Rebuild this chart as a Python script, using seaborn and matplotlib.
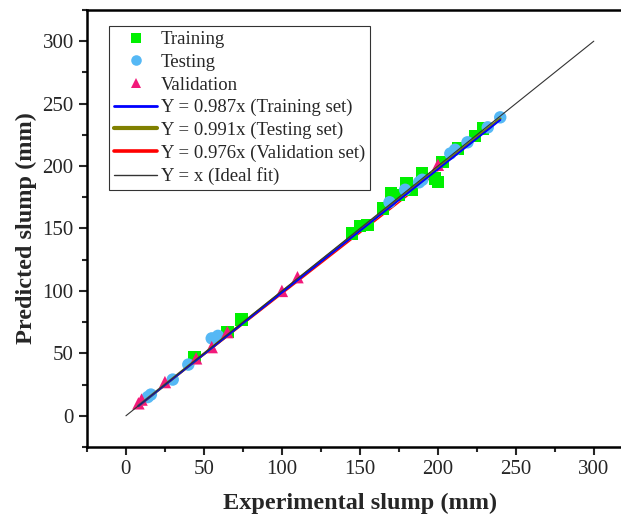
import numpy as np
import pandas as pd
import matplotlib
matplotlib.use("Agg")
import matplotlib.pyplot as plt
from matplotlib.ticker import MultipleLocator
import seaborn as sns

# Dados
train_x = [44, 65, 74, 145, 150, 155, 165, 170, 175, 180, 183, 190, 190, 198, 200, 203, 213, 224, 229]
train_y = [47, 67, 77, 146, 152, 153, 166, 178, 177, 186, 181, 194, 193, 190, 187, 203, 214, 224, 230]

test_x = [14, 16, 30, 40, 55, 59, 169, 179, 188, 190, 208, 211, 219, 232, 240]
test_y = [15, 17, 29, 41, 62, 64, 171, 181, 187, 189, 210, 213, 219, 231, 239]

val_x = [8, 10, 25, 45, 55, 65, 100, 110, 200]
val_y = [10, 13, 27, 46, 55, 67, 100, 111, 201]

slopes = [0.987, 0.991, 0.976]
set_names = ["Training", "Testing", "Validation"]
ideal = [0, 300]

sns.set_style("ticks")
plt.rcParams['font.family'] = ['Liberation Serif', 'DejaVu Serif']

fig = plt.figure(figsize=(6.21, 5.23), dpi=100)
ax = fig.add_axes([0.140, 0.1453, 0.879, 0.8357])

df = pd.concat([
    pd.DataFrame({"x": train_x, "y": train_y, "set": "Training"}),
    pd.DataFrame({"x": test_x, "y": test_y, "set": "Testing"}),
    pd.DataFrame({"x": val_x, "y": val_y, "set": "Validation"}),
])

sns.scatterplot(data=df, x="x", y="y", hue="set", style="set",
                palette={"Training": "#00F000", "Testing": "#55B8F5", "Validation": "#F2197A"},
                markers={"Training": "s", "Testing": "o", "Validation": "^"},
                s=80, linewidth=0, ax=ax, zorder=2)

# Retas de ajuste (a de validação só no intervalo dos seus dados)
all_x = np.array(train_x + test_x + val_x)
ranges = [
    np.array([all_x.min(), all_x.max()]),
    np.array([all_x.min(), all_x.max()]),
    np.array([min(val_x), max(val_x)]),
]
fit_colors = ["#0000FF", "#808000", "#FF0000"]
fit_widths = [1.4, 2.0, 1.0]
fit_z = [5, 4, 1]
for name, k, xs, c, lw, z in zip(set_names, slopes, ranges, fit_colors, fit_widths, fit_z):
    sns.lineplot(x=xs, y=k * xs, color=c, linewidth=lw, ax=ax, zorder=z,
                 label=f"Y = {k:.3f}x ({name} set)")

sns.lineplot(x=ideal, y=ideal, color="#333333", linewidth=0.8, ax=ax, zorder=6,
             label="Y = x (Ideal fit)")

ax.set_xlim(-25, 325)
ax.set_ylim(-25, 325)
ax.xaxis.set_major_locator(MultipleLocator(50))
ax.yaxis.set_major_locator(MultipleLocator(50))
ax.xaxis.set_minor_locator(MultipleLocator(25))
ax.yaxis.set_minor_locator(MultipleLocator(25))
ax.tick_params(which="major", direction="out", length=6, width=1.5, labelsize=15,
               top=False, right=False)
ax.tick_params(which="minor", direction="out", length=3.5, width=1.5, top=False, right=False)
for sp in ax.spines.values():
    sp.set_linewidth(1.8)
    sp.set_color("black")
ax.spines["right"].set_visible(False)

ax.set_xlabel("Experimental slump (mm)", fontsize=17.5, fontweight="bold", labelpad=10)
ax.set_ylabel("Predicted slump (mm)", fontsize=17.5, fontweight="bold", labelpad=4)

handles, labels = ax.get_legend_handles_labels()
leg = ax.legend(handles, labels, loc="upper left", bbox_to_anchor=(0.04, 0.963),
                fontsize=13.5, frameon=True, fancybox=False, edgecolor="black",
                handlelength=2.3, handletextpad=0.2, labelspacing=0.29,
                borderpad=0.28, borderaxespad=0, markerscale=0.85)
leg.get_frame().set_linewidth(0.8)
# traços da legenda mais grossos que as retas do gráfico
for ln, lw in zip(leg.get_lines()[-4:], [2.0, 3.0, 2.6, 1.0]):
    ln.set_linewidth(lw)

fig.savefig("out.png", dpi=100)
